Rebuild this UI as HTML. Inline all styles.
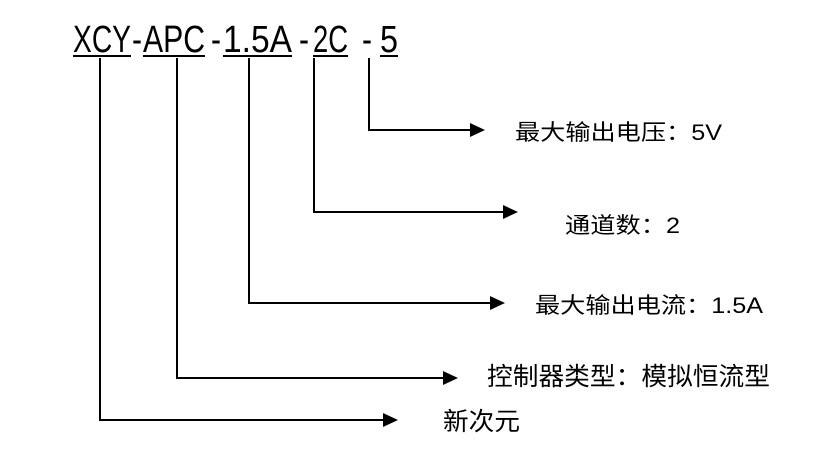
<!DOCTYPE html>
<html><head><meta charset="utf-8"><style>html,body{margin:0;padding:0;background:#fff}svg{display:block}</style></head>
<body>
<svg width="817" height="462" viewBox="0 0 817 462" xmlns="http://www.w3.org/2000/svg" font-family="Liberation Sans, Noto Sans CJK SC, sans-serif" fill="#000">
<g font-size="38">
<text x="73" y="52" textLength="58" lengthAdjust="spacingAndGlyphs">XCY</text>
<text x="132" y="52" textLength="10" lengthAdjust="spacingAndGlyphs">-</text>
<text x="143" y="52" textLength="62" lengthAdjust="spacingAndGlyphs">APC</text>
<text x="211" y="52" textLength="10" lengthAdjust="spacingAndGlyphs">-</text>
<text x="223" y="52" textLength="69" lengthAdjust="spacingAndGlyphs">1.5A</text>
<text x="299" y="52" textLength="10" lengthAdjust="spacingAndGlyphs">-</text>
<text x="313" y="52" textLength="35" lengthAdjust="spacingAndGlyphs">2C</text>
<text x="362" y="52" textLength="10" lengthAdjust="spacingAndGlyphs">-</text>
<text x="380" y="52" textLength="18" lengthAdjust="spacingAndGlyphs">5</text>
</g>
<g stroke="#000" stroke-width="2" fill="none">
<line x1="73" y1="56" x2="131" y2="56"/>
<line x1="143" y1="56" x2="205" y2="56"/>
<line x1="223" y1="56" x2="292" y2="56"/>
<line x1="313" y1="56" x2="348" y2="56"/>
<line x1="380" y1="56" x2="398" y2="56"/>
<polyline points="369,58 369,130 470,130"/>
<polyline points="314,58 314,212 503,212"/>
<polyline points="249,58 249,303 490,303"/>
<polyline points="177,58 177,378 443,378"/>
<polyline points="100,58 100,420 383,420"/>
</g>
<polygon points="470,123 485,130 470,137"/>
<polygon points="503,205 518,212 503,219"/>
<polygon points="490,296 505,303 490,310"/>
<polygon points="443,371 458,378 443,385"/>
<polygon points="383,413 398,420 383,427"/>
<g font-size="22">
<text x="515" y="140" textLength="207" lengthAdjust="spacingAndGlyphs">最大输出电压：5V</text>
<text x="565" y="233" textLength="115" lengthAdjust="spacingAndGlyphs">通道数：2</text>
<text x="535" y="313" textLength="228" lengthAdjust="spacingAndGlyphs">最大输出电流：1.5A</text>
</g>
<g font-size="25">
<text x="487" y="385" textLength="283" lengthAdjust="spacingAndGlyphs">控制器类型：模拟恒流型</text>
<text x="443" y="430" textLength="77" lengthAdjust="spacingAndGlyphs">新次元</text>
</g>
</svg>
</body></html>
